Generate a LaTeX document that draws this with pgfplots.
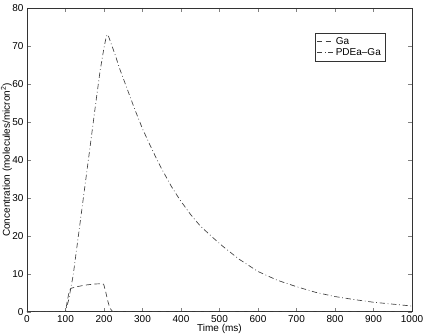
\documentclass[border=0pt]{standalone}
\usepackage{fontspec}
\setmainfont{Liberation Sans}
\usepackage{pgfplots}
\pgfplotsset{compat=1.18}
\usetikzlibrary{calc}

\begin{document}
\fontsize{7.5}{9}\selectfont
\begin{tikzpicture}
\begin{axis}[
  scale only axis, width=289pt, height=228pt,
  xmin=0, xmax=1000, ymin=0, ymax=80,
  xtick={0,100,...,1000}, ytick={0,10,...,80},
  tick align=inside, major tick length=3pt,
  /pgf/number format/assume math mode=true,
  /pgf/number format/1000 sep={},
  tick label style={font=\fontsize{7.5}{9}\selectfont},
  label style={font=\fontsize{7.5}{9}\selectfont},
  xlabel={Time (ms)}, ylabel={Concentration (molecules/micron\textsuperscript{2})},
  xlabel style={yshift=4pt}, ylabel style={yshift=-5pt},
  axis line style={black!80, line width=0.5pt},
  legend style={at={(0.748,0.918)}, anchor=north west, draw=black!80,
    font=\fontsize{7.5}{9}\selectfont, inner sep=1pt, row sep=-2pt,
    legend cell align=left},
  legend image post style={xscale=0.7},
]
\addplot[black!75, line width=0.5pt, dash pattern=on 4pt off 2.5pt] coordinates {
 (0,0) (100,0) (105,3) (110,5.5) (115,6.2) (130,6.6) (150,7.0) (175,7.3)
 (197,7.4) (200,7.0) (205,5.0) (210,2.8) (215,1.0) (222,0.1) (228,0) (1000,0)};
\addlegendentry{Ga}
\addplot[black!75, line width=0.5pt, dash pattern=on 4pt off 2pt on 0.6pt off 2pt] coordinates {
 (0,0) (100,0) (108,3) (120,9.6) (140,25) (160,40.4) (180,56) (190,63.5)
 (200,69.5) (205,72) (208,73) (212,72.5) (220,70.2) (228,68) (240,64.2)
 (258,59.3) (280,53.3) (300,48.2) (319,44) (336,40.4) (350,37.6) (375,33)
 (397,29.5) (425,25.6) (450,22.6) (483,19.5) (509,17.2) (550,13.9)
 (600,10.6) (650,8.3) (700,6.6) (750,5.1) (800,4.0) (850,3.2) (900,2.5)
 (950,2.0) (1000,1.5)};
\addlegendentry{PDEa--Ga}
\end{axis}
\pgfresetboundingbox
\path[use as bounding box] ($(current axis.south west)+(-20.25pt,-17.25pt)$)
  rectangle ($(current axis.north east)+(10.5pt,6pt)$);
\end{tikzpicture}
\end{document}
